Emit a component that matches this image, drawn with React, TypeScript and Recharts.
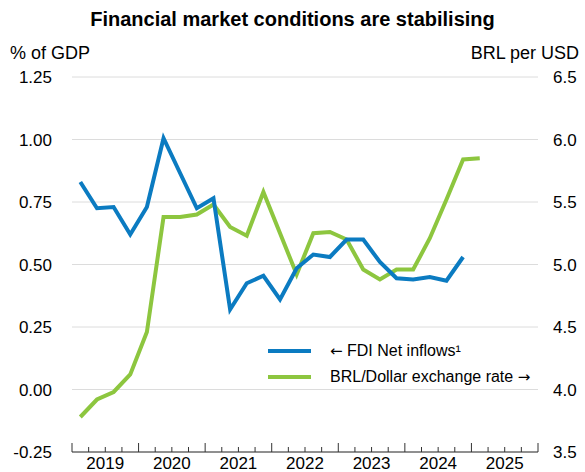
import React from 'react';
import { LineChart, Line, XAxis, YAxis, CartesianGrid } from 'recharts';

const years = ['2019', '2020', '2021', '2022', '2023', '2024', '2025'];

// FDI net inflows, % of GDP, quarterly from 2019 Q1
const fdiInflows = [
  0.83, 0.725, 0.73, 0.62, 0.73, 1.005, 0.865, 0.725, 0.765, 0.32, 0.425, 0.455,
  0.36, 0.485, 0.54, 0.53, 0.6, 0.6, 0.51, 0.445, 0.44, 0.45, 0.435, 0.53,
];

// BRL per USD, quarterly from 2019 Q1
const brlPerUsd = [
  3.78, 3.92, 3.98, 4.12, 4.46, 5.38, 5.38, 5.4, 5.48, 5.3, 5.23, 5.58,
  5.25, 4.92, 5.25, 5.26, 5.2, 4.96, 4.88, 4.96, 4.96, 5.21, 5.52, 5.84, 5.85,
];

const leftTicks = [-0.25, 0, 0.25, 0.5, 0.75, 1.0, 1.25];
const rightTicks = [3.5, 4.0, 4.5, 5.0, 5.5, 6.0, 6.5];

const nQuarters = years.length * 4;
const quarterTicks = Array.from({ length: nQuarters + 1 }, (_, i) => i);

const data = Array.from({ length: nQuarters }, (_, i) => ({
  x: i + 0.5,
  fdi: i < fdiInflows.length ? fdiInflows[i] : null,
  brl: i < brlPerUsd.length ? brlPerUsd[i] : null,
}));

const BLUE = '#0b7bc1';
const GREEN = '#8dc63f';
const FONT = '"Liberation Sans", Arial, sans-serif';

const QuarterTick = (props: any) => {
  const { x, y, payload } = props;
  const i = payload.value as number;
  const major = i % 4 === 0;
  return (
    <g>
      <line x1={x} x2={x} y1={y} y2={y - (major ? 9 : 5)} stroke="#333" strokeWidth={1} />
      {i % 4 === 2 && (
        <text x={x} y={y + 17} textAnchor="middle" fontSize={17} fill="#000" fontFamily={FONT}>
          {years[Math.floor(i / 4)]}
        </text>
      )}
    </g>
  );
};

// arrows in Liberation Sans are tiny, borrow DejaVu's
const Arrow = ({ ch }: { ch: string }) => (
  <span style={{ fontFamily: '"DejaVu Sans", sans-serif', fontSize: 15 }}>{ch}</span>
);

export default function App() {
  return (
    <div style={{ position: 'absolute', left: 0, top: 0, width: 585, height: 472, background: '#fff', fontFamily: FONT }}>
      <div style={{ position: 'absolute', left: 0, width: 585, top: 8, textAlign: 'center', fontSize: 20, fontWeight: 'bold', color: '#000' }}>
        Financial market conditions are stabilising
      </div>
      <div style={{ position: 'absolute', left: 10, top: 43, fontSize: 18, color: '#000' }}>% of GDP</div>
      <div style={{ position: 'absolute', right: 6, top: 43, fontSize: 18, color: '#000' }}>BRL per USD</div>

      <LineChart width={585} height={472} data={data} margin={{ top: 77, right: 0, bottom: 0, left: 0 }}>
        <CartesianGrid vertical={false} stroke="#dcdcdc" yAxisId="left" />
        <XAxis
          dataKey="x"
          type="number"
          domain={[0, nQuarters]}
          ticks={quarterTicks}
          interval={0}
          tick={<QuarterTick />}
          tickLine={false}
          tickSize={0}
          tickMargin={0}
          axisLine={{ stroke: '#333' }}
          height={20}
        />
        <YAxis
          yAxisId="left"
          domain={[-0.25, 1.25]}
          ticks={leftTicks}
          tickFormatter={(v: number) => v.toFixed(2)}
          axisLine={false}
          tickLine={false}
          tickMargin={14}
          width={72}
          tick={{ fontSize: 17, fill: '#000', fontFamily: FONT }}
        />
        <YAxis
          yAxisId="right"
          orientation="right"
          domain={[3.5, 6.5]}
          ticks={rightTicks}
          tickFormatter={(v: number) => v.toFixed(1)}
          axisLine={false}
          tickLine={false}
          tickMargin={9}
          width={47}
          tick={{ fontSize: 17, fill: '#000', fontFamily: FONT, textAnchor: 'start' }}
        />
        <Line yAxisId="right" dataKey="brl" stroke={GREEN} strokeWidth={4} dot={false} isAnimationActive={false} strokeLinejoin="miter" />
        <Line yAxisId="left" dataKey="fdi" stroke={BLUE} strokeWidth={4} dot={false} isAnimationActive={false} strokeLinejoin="miter" />
      </LineChart>

      <div style={{ position: 'absolute', left: 268, top: 338, fontSize: 16, color: '#000' }}>
        <div style={{ display: 'flex', alignItems: 'center', height: 26 }}>
          <div style={{ width: 43, height: 4, background: BLUE, marginRight: 19 }} />
          <span><Arrow ch={'\u2190'} /> FDI Net inflows{'\u00b9'}</span>
        </div>
        <div style={{ display: 'flex', alignItems: 'center', height: 26 }}>
          <div style={{ width: 43, height: 4, background: GREEN, marginRight: 19 }} />
          <span>BRL/Dollar exchange rate <Arrow ch={'\u2192'} /></span>
        </div>
      </div>
    </div>
  );
}
